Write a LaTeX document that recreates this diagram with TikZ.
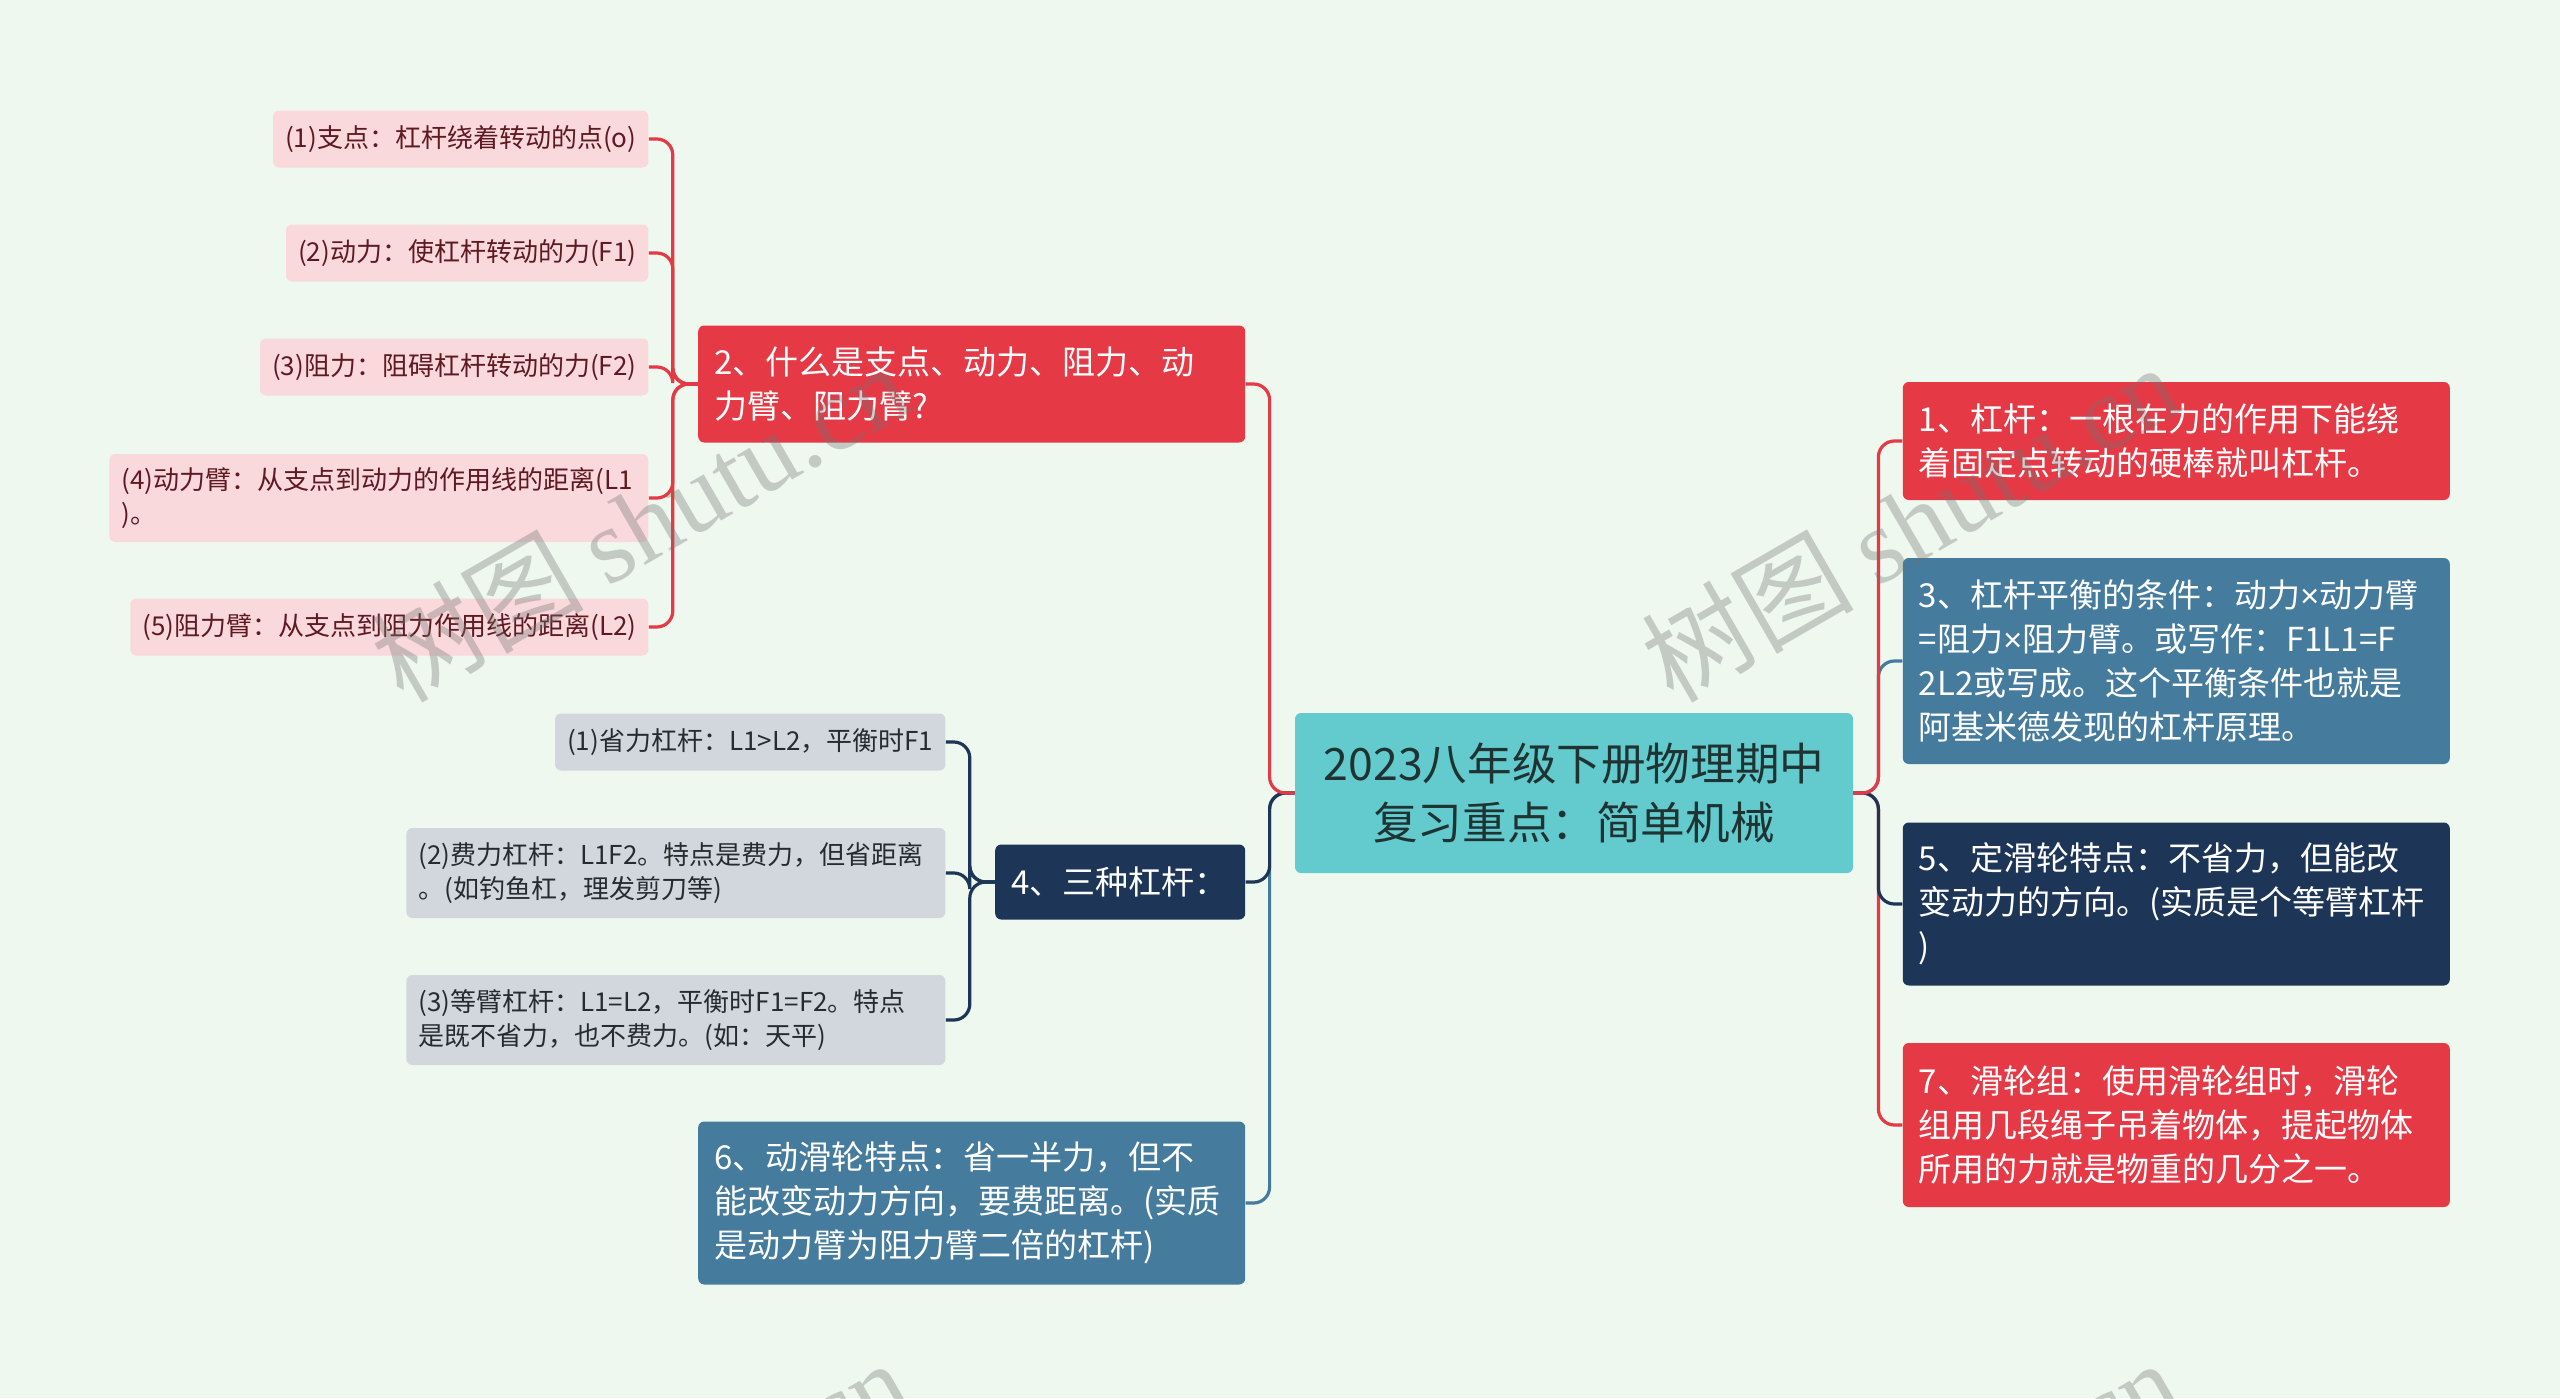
\documentclass[tikz,border=0pt]{standalone}
\usepackage{fontspec}
\setmainfont{Noto Sans CJK SC}
\newfontfamily\wmserif{Liberation Serif}
\newfontfamily\narrowsign{Liberation Sans}
\usetikzlibrary{positioning}

\definecolor{bgmint}{HTML}{EFF8EE}
\definecolor{leverred}{HTML}{E63946}
\definecolor{steelblue}{HTML}{457B9D}
\definecolor{deepnavy}{HTML}{1D3557}
\definecolor{hubteal}{HTML}{63CBCE}
\definecolor{hubtext}{HTML}{1F3333}
\definecolor{leafpink}{HTML}{F9D9DC}
\definecolor{pinktext}{HTML}{5E1A20}
\definecolor{leafgrey}{HTML}{D2D7DD}
\definecolor{greytext}{HTML}{262B30}

\newcommand{\leaffont}{\fontsize{13pt}{17pt}\selectfont}
\newcommand{\branchfont}{\fontsize{16.5pt}{22pt}\selectfont}
\newcommand{\hubfont}{\fontsize{22.3pt}{29.5pt}\selectfont}
\newcommand{\tms}{{\narrowsign ×}}

\begin{document}
\begin{tikzpicture}[x=0.5pt, y=-0.5pt,
    box/.style={rounded corners=3pt, align=left, inner xsep=8pt, inner ysep=0pt},
    hub/.style={box, fill=hubteal, text=hubtext, align=center, text width=263pt, minimum height=80pt, font=\hubfont},
    branch/.style={box, text=white, text width=257.5pt, font=\branchfont},
    redbranch/.style={branch, fill=leverred},
    steelbranch/.style={branch, fill=steelblue},
    navybranch/.style={branch, fill=deepnavy},
    leaf/.style={box, inner xsep=6pt, minimum height=28.5pt, font=\leaffont},
    pinkleaf/.style={leaf, fill=leafpink, text=pinktext},
    greyleaf/.style={leaf, fill=leafgrey, text=greytext},
    link/.style={line width=1.6pt, rounded corners=8pt},
    wmark/.style={text=black!55, opacity=0.35, rotate=30, font=\fontsize{53pt}{57pt}\selectfont}]

    \fill[bgmint] (0,0) rectangle (2560,1398);
    \useasboundingbox (0,0) rectangle (2560,1398);

    \node[hub] (hub) at (1574,793) {2023八年级下册物理期中\\复习重点：简单机械};

    \node[redbranch, minimum height=58.5pt, left=24.5pt of hub, yshift=204.5pt] (q2) {2、什么是支点、动力、阻力、动\\力臂、阻力臂?};
    \node[navybranch, text width=109pt, minimum height=37.5pt, left=24.5pt of hub, yshift=-44.5pt] (q4) {4、三种杠杆：};
    \node[steelbranch, minimum height=81.5pt, left=24.5pt of hub, yshift=-205pt] (q6) {6、动滑轮特点：省一半力，但不\\能改变动力方向，要费距离。(实质\\是动力臂为阻力臂二倍的杠杆)};

    \node[redbranch, minimum height=59pt, right=24.5pt of hub, yshift=176pt] (q1) {1、杠杆：一根在力的作用下能绕\\着固定点转动的硬棒就叫杠杆。};
    \node[steelbranch, minimum height=103pt, right=24.5pt of hub, yshift=66pt] (q3) {3、杠杆平衡的条件：动力\tms 动力臂\\=阻力\tms 阻力臂。或写作：F1L1=F\\2L2或写成。这个平衡条件也就是\\阿基米德发现的杠杆原理。};
    \node[navybranch, minimum height=81.5pt, right=24.5pt of hub, yshift=-55.5pt] (q5) {5、定滑轮特点：不省力，但能改\\变动力的方向。(实质是个等臂杠杆\\)};
    \node[redbranch, minimum height=82pt, right=24.5pt of hub, yshift=-166pt] (q7) {7、滑轮组：使用滑轮组时，滑轮\\组用几段绳子吊着物体，提起物体\\所用的力就是物重的几分之一。};

    \node[pinkleaf, left=24.5pt of q2, yshift=122.5pt] (p1) {(1)支点：杠杆绕着转动的点(o)};
    \node[pinkleaf, left=24.5pt of q2, yshift=65.5pt] (p2) {(2)动力：使杠杆转动的力(F1)};
    \node[pinkleaf, left=24.5pt of q2, yshift=8.5pt] (p3) {(3)阻力：阻碍杠杆转动的力(F2)};
    \node[pinkleaf, text width=257.5pt, minimum height=44pt, left=24.5pt of q2, yshift=-57pt] (p4) {(4)动力臂：从支点到动力的作用线的距离(L1\\)。};
    \node[pinkleaf, left=24.5pt of q2, yshift=-121.5pt] (p5) {(5)阻力臂：从支点到阻力作用线的距离(L2)};

    \node[greyleaf, left=24.5pt of q4, yshift=70pt] (g1) {(1)省力杠杆：L1>L2，平衡时F1};
    \node[greyleaf, text width=257.5pt, minimum height=45pt, left=24.5pt of q4, yshift=4.5pt] (g2) {(2)费力杠杆：L1F2。特点是费力，但省距离\\。(如钓鱼杠，理发剪刀等)};
    \node[greyleaf, text width=257.5pt, minimum height=45pt, left=24.5pt of q4, yshift=-69pt] (g3) {(3)等臂杠杆：L1=L2，平衡时F1=F2。特点\\是既不省力，也不费力。(如：天平)};

    \foreach \i in {1,...,5}
        \draw[link, leverred] (q2.west) -- ++(-25,0) |- (p\i.east);
    \foreach \i in {1,2,3}
        \draw[link, deepnavy] (q4.west) -- ++(-25,0) |- (g\i.east);

    \draw[link, steelblue] (hub.west) -- ++(-25,0) |- (q6.east);
    \draw[link, deepnavy] (hub.west) -- ++(-25,0) |- (q4.east);
    \draw[link, leverred] (hub.west) -- ++(-25,0) |- (q2.east);

    \draw[link, leverred] (hub.east) -- ++(25,0) |- (q7.west);
    \draw[link, deepnavy] (hub.east) -- ++(25,0) |- (q5.west);
    \draw[link, steelblue] (hub.east) -- ++(25,0) |- (q3.west);
    \draw[link, leverred] (hub.east) -- ++(25,0) |- (q1.west);

    % watermark
    \node[wmark] (wm1) at (640,522) {树图 {\wmserif shutu.cn}};
    \node[wmark] (wm2) at (1910,522) {树图 {\wmserif shutu.cn}};
    \node[wmark] (wm3) at (640,1518) {树图 {\wmserif shutu.cn}};
    \node[wmark] (wm4) at (1910,1518) {树图 {\wmserif shutu.cn}};
\end{tikzpicture}
\end{document}
